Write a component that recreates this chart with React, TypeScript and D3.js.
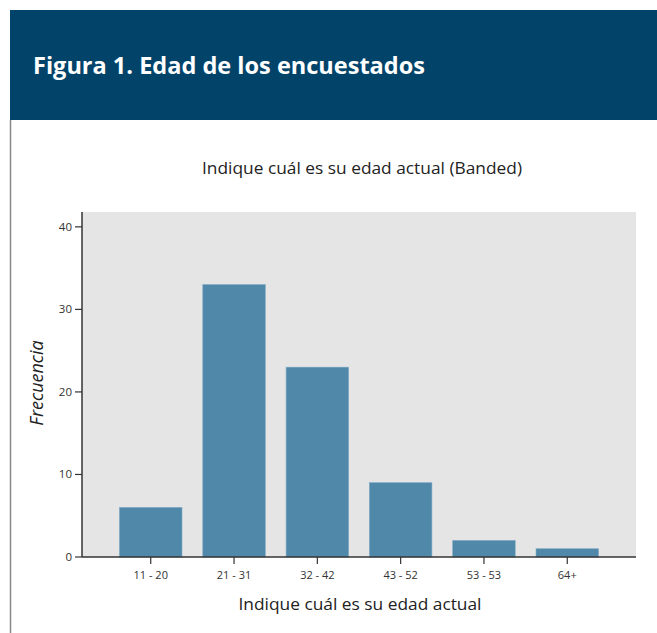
import React from "react";
import * as d3 from "d3";

const categories = ["11 - 20", "21 - 31", "32 - 42", "43 - 52", "53 - 53", "64+"];
const frequencies = [6, 33, 23, 9, 2, 1];
const yTicks = [0, 10, 20, 30, 40];

const W = 657;
const H = 633;
const plot = { left: 82, right: 636, top: 212, bottom: 557 };
const FONT = "'Open Sans', 'Noto Sans', sans-serif";

export default function App() {
  const x = d3
    .scaleBand<string>()
    .domain(categories)
    .range([plot.left, plot.right])
    .paddingInner(0.25)
    .paddingOuter(0.45);
  const y = d3.scaleLinear().domain([0, 41.8]).range([plot.bottom, plot.top]);

  return (
    <svg
      width={W}
      height={H}
      style={{ position: "absolute", left: 0, top: 0, background: "#fff" }}
    >
      {/* header band */}
      <rect x={10} y={10} width={W - 10} height={110} fill="#02436a" />
      <text
        x={33}
        y={74}
        fill="#fff"
        fontFamily={FONT}
        fontWeight={700}
        fontSize={23}
        textLength={392}
        lengthAdjust="spacingAndGlyphs"
      >
        Figura 1. Edad de los encuestados
      </text>
      {/* left border */}
      <line x1={10.5} x2={10.5} y1={120} y2={H} stroke="#888" strokeWidth={1.5} />

      {/* chart title */}
      <text
        x={362}
        y={174}
        textAnchor="middle"
        fill="#222"
        fontFamily={FONT}
        fontSize={17}
        textLength={320}
        lengthAdjust="spacingAndGlyphs"
      >
        Indique cuál es su edad actual (Banded)
      </text>

      {/* plot background */}
      <rect
        x={plot.left}
        y={plot.top}
        width={plot.right - plot.left}
        height={plot.bottom - plot.top}
        fill="#e5e5e5"
      />

      {/* bars */}
      {categories.map((c, i) => (
        <rect
          key={c}
          x={x(c)}
          y={y(frequencies[i])}
          width={x.bandwidth()}
          height={y(0) - y(frequencies[i])}
          fill="#5088aa"
          stroke="#7aa5c2"
          strokeWidth={0.6}
        />
      ))}

      {/* y axis */}
      <line x1={plot.left} x2={plot.left} y1={plot.top} y2={plot.bottom} stroke="#333" strokeWidth={1.5} />
      {yTicks.map((t) => (
        <g key={t}>
          <line x1={plot.left - 7} x2={plot.left} y1={y(t)} y2={y(t)} stroke="#333" strokeWidth={1.2} />
          <text
            x={plot.left - 10}
            y={y(t)}
            dy="0.35em"
            textAnchor="end"
            fontFamily={FONT}
            fontSize={11.5}
            fill="#333"
          >
            {t}
          </text>
        </g>
      ))}

      {/* x axis */}
      <line x1={plot.left} x2={plot.right} y1={plot.bottom} y2={plot.bottom} stroke="#333" strokeWidth={1.5} />
      {categories.map((c) => {
        const cx = (x(c) as number) + x.bandwidth() / 2;
        return (
          <g key={c}>
            <line x1={cx} x2={cx} y1={plot.bottom} y2={plot.bottom + 7} stroke="#333" strokeWidth={1.2} />
            <text
              x={cx}
              y={579}
              textAnchor="middle"
              fontFamily={FONT}
              fontSize={11}
              fill="#333"
            >
              {c}
            </text>
          </g>
        );
      })}

      {/* axis titles */}
      <text
        x={360}
        y={610}
        textAnchor="middle"
        fontFamily={FONT}
        fontSize={17}
        fill="#222"
        textLength={243}
        lengthAdjust="spacingAndGlyphs"
      >
        Indique cuál es su edad actual
      </text>
      <text
        transform={`translate(43, 383) rotate(-90)`}
        textAnchor="middle"
        fontFamily={FONT}
        fontStyle="italic"
        fontSize={18}
        fill="#222"
      >
        Frecuencia
      </text>
    </svg>
  );
}
